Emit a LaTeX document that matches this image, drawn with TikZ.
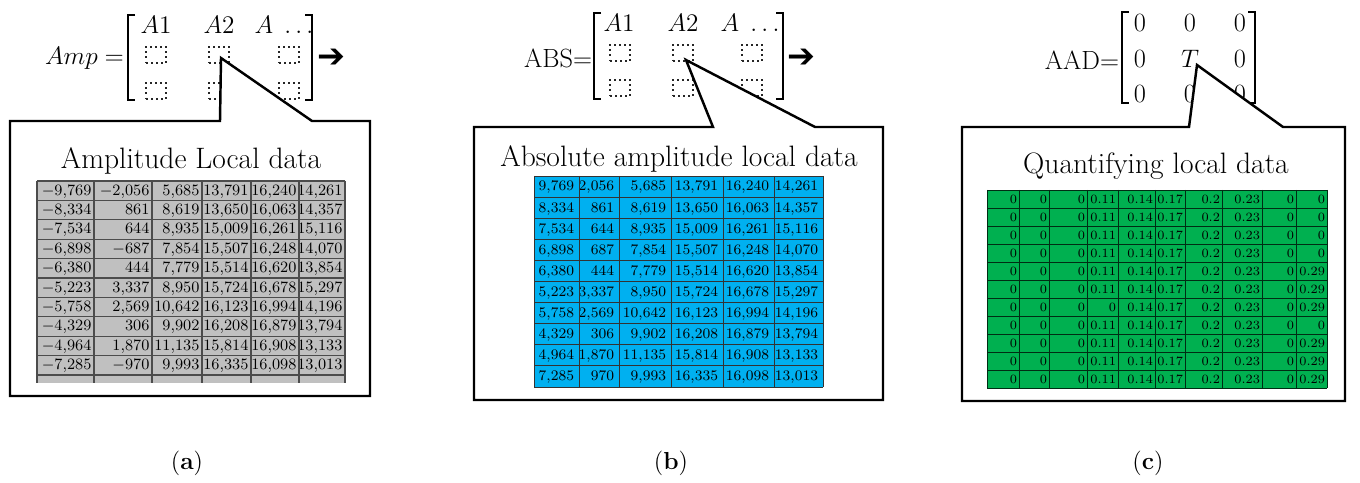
\documentclass[tikz,border=0pt]{standalone}
\usepackage{amsmath}
\usepackage{fontspec}
\newfontfamily\dingfont{DejaVu Sans}
\usetikzlibrary{positioning,calc}

\definecolor{ampgray}{HTML}{C0C0C0}
\definecolor{absblue}{HTML}{00B0F0}
\definecolor{aadgreen}{HTML}{00B050}

\newcommand{\fs}[1]{\fontsize{#1}{#1}\selectfont}

\begin{document}
\begin{tikzpicture}[
  x=0.02cm, y=-0.02cm,
  every node/.style={inner sep=0pt, outer sep=0pt},
  matent/.style={font=\fs{15}},
  dotsq/.style={draw=black!85, dotted, line width=0.9pt,
                minimum width=0.4cm, minimum height=0.33cm},
  brak/.style={line width=1pt},
  calloutbox/.style={draw, line width=1.4pt, fill=white, line join=miter},
  boxtitle/.style={font=\fs{16.8}},
  sublbl/.style={font=\fs{14}},
  cellA/.style={font=\fs{9}, text height=0.7em, text depth=0.2em},
  cellB/.style={font=\fs{8.3}, text height=0.7em, text depth=0.2em},
  cellC/.style={font=\fs{7.2}, text height=0.7em, text depth=0.2em},
  gridA/.style={black!70, line width=0.7pt},
  gridB/.style={black!80, line width=0.5pt},
  gridC/.style={black!75!aadgreen, line width=0.5pt}
]
% Scale: 1 unit = 1px of the 1360x483 frame (y runs down)
\useasboundingbox (0,0) rectangle (1360,483);

%% --- (a) amplitude matrix ------------------------------------
\node[matent, anchor=east] (ampLbl) at (124,58) {$Amp =$};
\node[matent] (a11) at (156,25) {$A1$};
\node[matent] (a12) at (219,25) {$A2$};
\node[matent] (a13) at (284,25) {$A\;\ldots$};
\foreach \c/\x in {1/156, 2/219, 3/289}{
  \node[dotsq] (a2\c) at (\x,55) {};
  \node[dotsq] (a3\c) at (\x,91) {};
}
\draw[brak] (135,15) -| (128,100) -- (135,100);
\draw[brak] (305,15) -| (312,100) -- (305,100);
\node[font=\dingfont\fs{19}] (arrA) at (331,58) {➔};
\coordinate (tipA) at ($(a22.center)+(2,3)$);

%% --- (b) absolute matrix -------------------------------------
\node[matent, anchor=east] (absLbl) at (592,58) {ABS=};
\node[matent] (b11) at (619,23) {$A1$};
\node[matent] (b12) at (683,23) {$A2$};
\node[matent] (b13) at (750,23) {$A\;\ldots$};
\foreach \c/\x in {1/620, 2/683, 3/752}{
  \node[dotsq] (b2\c) at (\x,53) {};
  \node[dotsq] (b3\c) at (\x,88) {};
}
\draw[brak] (601,13) -| (594,99) -- (601,99);
\draw[brak] (776,13) -| (783,99) -- (776,99);
\node[font=\dingfont\fs{19}] (arrB) at (801,58) {➔};
\coordinate (tipB) at ($(b22.center)+(3,7)$);

%% --- (c) quantified matrix -----------------------------------
\node[matent, anchor=east] (aadLbl) at (1119,60) {AAD=};
\foreach \c/\x in {1/1140, 2/1190, 3/1240}{
  \node[matent] (c1\c) at (\x,23) {0};
  \node[matent] (c3\c) at (\x,94) {0};
}
\node[matent] (c21) at (1140,59) {0};
\node[matent] (c22) at (1190,59) {$T$};
\node[matent] (c23) at (1240,59) {0};
\draw[brak] (1129,12) -| (1122,103) -- (1129,103);
\draw[brak] (1248,12) -| (1255,103) -- (1248,103);
\coordinate (tipC) at ($(c22.center)+(7,6)$);

%% --- Callout boxes (drawn over the matrices) -----------------
\draw[calloutbox] (tipA) -- (312,121) -- (370,121) |- (10,396) |- (220,121) -- cycle;
\draw[calloutbox] (tipB) -- (815,127) -- (883,127) |- (474,400) |- (713,127) -- cycle;
\draw[calloutbox] (tipC) -- (1283,127) -- (1345,127) |- (962,401) |- (1189,127) -- cycle;

\node[boxtitle] (titleA) at (191,161) {Amplitude Local data};
\node[boxtitle] (titleB) at (679,159) {Absolute amplitude local data};
\node[boxtitle] (titleC) at (1156,166) {Quantifying local data};

%% --- Table (a): raw amplitudes -------------------------------
\fill[ampgray] (37,181) rectangle (345,383);
\foreach \rowlist [count=\r] in {
  {{$-$9,769},{$-$2,056},{5,685},{13,791},{16,240},{14,261}},
  {{$-$8,334},{861},{8,619},{13,650},{16,063},{14,357}},
  {{$-$7,534},{644},{8,935},{15,009},{16,261},{15,116}},
  {{$-$6,898},{$-$687},{7,854},{15,507},{16,248},{14,070}},
  {{$-$6,380},{444},{7,779},{15,514},{16,620},{13,854}},
  {{$-$5,223},{3,337},{8,950},{15,724},{16,678},{15,297}},
  {{$-$5,758},{2,569},{10,642},{16,123},{16,994},{14,196}},
  {{$-$4,329},{306},{9,902},{16,208},{16,879},{13,794}},
  {{$-$4,964},{1,870},{11,135},{15,814},{16,908},{13,133}},
  {{$-$7,285},{$-$970},{9,993},{16,335},{16,098},{13,013}}}{
  \foreach \val [count=\c] in \rowlist {
    \pgfmathsetmacro{\xr}{{94,152,202,251,299,345}[\c-1]-2.5}
    \node[cellA, anchor=east] (ta-\r-\c) at (\xr,{181+19.4*(\r-0.5)}) {\val};
  }
}
\foreach \x in {37,94,152,202,251,299,345}
  \draw[gridA] (\x,181) -- (\x,383);
\foreach \r in {0,...,10}
  \draw[gridA] (37,{181+19.4*\r}) -- (345,{181+19.4*\r});

%% --- Table (b): absolute amplitudes --------------------------
\fill[absblue] (534,176) rectangle (823,387);
\foreach \rowlist [count=\r] in {
  {{9,769},{2,056},{5,685},{13,791},{16,240},{14,261}},
  {{8,334},{861},{8,619},{13,650},{16,063},{14,357}},
  {{7,534},{644},{8,935},{15,009},{16,261},{15,116}},
  {{6,898},{687},{7,854},{15,507},{16,248},{14,070}},
  {{6,380},{444},{7,779},{15,514},{16,620},{13,854}},
  {{5,223},{3,337},{8,950},{15,724},{16,678},{15,297}},
  {{5,758},{2,569},{10,642},{16,123},{16,994},{14,196}},
  {{4,329},{306},{9,902},{16,208},{16,879},{13,794}},
  {{4,964},{1,870},{11,135},{15,814},{16,908},{13,133}},
  {{7,285},{970},{9,993},{16,335},{16,098},{13,013}}}{
  \foreach \val [count=\c] in \rowlist {
    \pgfmathsetmacro{\xr}{{579,619,671,723,774,823}[\c-1]-5}
    \node[cellB, anchor=east] (tb-\r-\c) at (\xr,{176+21.1*(\r-0.5)}) {\val};
  }
}
\foreach \x in {534,579,619,671,723,774,823}
  \draw[gridB] (\x,176) -- (\x,387);
\foreach \r in {0,...,10}
  \draw[gridB] (534,{176+21.1*\r}) -- (823,{176+21.1*\r});

%% --- Table (c): quantified values ----------------------------
\fill[aadgreen] (987,190) rectangle (1327,388);
\foreach \fourth/\last [count=\r] in {0.11/0, 0.11/0, 0.11/0, 0.11/0,
    0.11/0.29, 0.11/0.29, 0/0.29, 0.11/0, 0.11/0.29, 0.11/0.29, 0.11/0.29}{
  \foreach \val [count=\c] in {0,0,0,\fourth,0.14,0.17,0.2,0.23,0,\last}{
    \pgfmathsetmacro{\xr}{{1019,1049,1087,1118,1155,1185,1222,1262,1296,1327}[\c-1]-2}
    \node[cellC, anchor=east] (tc-\r-\c) at (\xr,{190+18*(\r-0.5)}) {\val};
  }
}
\foreach \x in {987,1019,1049,1087,1118,1155,1185,1222,1262,1296,1327}
  \draw[gridC] (\x,190) -- (\x,388);
\foreach \r in {0,...,11}
  \draw[gridC] (987,{190+18*\r}) -- (1327,{190+18*\r});

%% --- Sub-figure labels ---------------------------------------
\node[sublbl] (lblA) at (187,463) {(\textbf{a})};
\node[sublbl] (lblB) at (671,463) {(\textbf{b})};
\node[sublbl] (lblC) at (1148,463) {(\textbf{c})};

\end{tikzpicture}
\end{document}
